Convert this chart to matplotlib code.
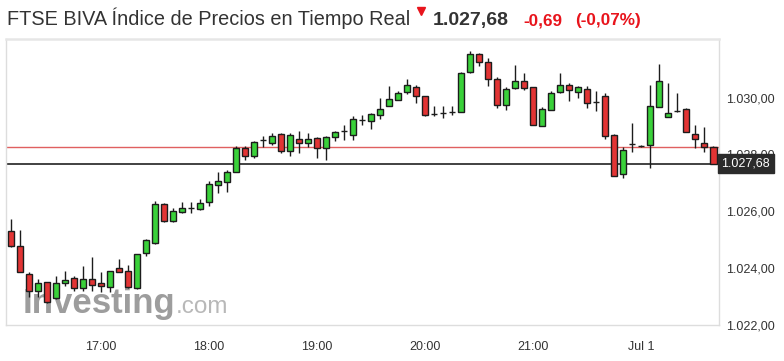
import matplotlib
matplotlib.use("Agg")
import matplotlib.pyplot as plt
from matplotlib.lines import Line2D
import numpy as np

plt.rcParams['font.family'] = ['Liberation Sans', 'DejaVu Sans']

# ---- data (5-minute candles, 16:10 -> 22:40) ----
opens = [1025.29, 1024.77, 1023.79, 1023.21, 1023.50, 1022.95, 1023.47, 1023.66, 1023.29, 1023.62,
         1023.48, 1023.33, 1024.01, 1023.89, 1023.31, 1024.53, 1024.88, 1026.25, 1025.67, 1025.97,
         1026.13, 1026.08, 1026.32, 1026.93, 1027.03, 1027.40, 1028.22, 1027.95, 1028.50, 1028.42,
         1028.71, 1028.13, 1028.54, 1028.42, 1028.57, 1028.21, 1028.60, 1028.82, 1028.68, 1029.21,
         1029.19, 1029.39, 1029.71, 1029.93, 1030.20, 1030.39, 1030.04, 1029.44, 1029.46, 1029.48,
         1029.50, 1030.90, 1031.53, 1031.27, 1030.67, 1029.74, 1030.33, 1030.57, 1030.36, 1029.01,
         1029.58, 1030.21, 1030.44, 1030.20, 1030.30, 1029.83, 1030.04, 1028.70, 1027.31, 1028.36,
         1028.30, 1028.33, 1029.67, 1029.32, 1029.53, 1029.59, 1028.71, 1028.40, 1028.27]
highs = [1025.73, 1025.34, 1023.85, 1023.62, 1023.52, 1023.71, 1023.90, 1023.71, 1024.06, 1024.41,
         1023.85, 1023.90, 1024.32, 1024.11, 1024.50, 1025.02, 1026.37, 1026.29, 1026.10, 1026.31,
         1026.31, 1026.45, 1027.08, 1027.40, 1027.45, 1028.29, 1028.31, 1028.48, 1028.65, 1028.77,
         1028.74, 1028.74, 1028.81, 1028.75, 1028.60, 1028.64, 1028.83, 1029.03, 1029.34, 1029.40,
         1029.45, 1029.98, 1030.40, 1030.24, 1030.67, 1030.45, 1030.05, 1029.69, 1029.72, 1029.72,
         1030.89, 1031.63, 1031.56, 1031.41, 1030.71, 1030.36, 1031.15, 1030.88, 1030.37, 1029.67,
         1030.24, 1030.88, 1030.53, 1030.41, 1030.41, 1030.24, 1030.15, 1028.71, 1028.28, 1029.12,
         1028.33, 1030.45, 1031.20, 1030.53, 1030.18, 1029.62, 1029.03, 1028.98, 1028.30]
lows = [1024.76, 1023.86, 1022.97, 1022.97, 1022.77, 1022.93, 1023.36, 1023.21, 1023.21, 1023.21,
        1023.15, 1023.15, 1023.85, 1023.30, 1023.27, 1024.44, 1024.86, 1025.64, 1025.61, 1025.94,
        1025.94, 1026.05, 1026.18, 1026.64, 1026.67, 1027.38, 1027.81, 1027.87, 1028.25, 1028.33,
        1028.04, 1027.95, 1028.04, 1028.25, 1027.86, 1027.81, 1028.48, 1028.50, 1028.51, 1029.03,
        1028.91, 1029.25, 1029.70, 1029.91, 1030.12, 1029.80, 1029.36, 1029.34, 1029.30, 1029.39,
        1029.49, 1030.88, 1031.11, 1030.41, 1029.62, 1029.57, 1030.31, 1030.27, 1029.03, 1028.99,
        1029.57, 1030.18, 1029.88, 1029.97, 1029.62, 1029.53, 1028.54, 1027.24, 1027.16, 1028.07,
        1028.28, 1027.51, 1029.66, 1029.31, 1029.50, 1028.78, 1028.21, 1028.07, 1027.68]
closes = [1024.79, 1023.87, 1023.21, 1023.47, 1022.80, 1023.47, 1023.57, 1023.29, 1023.61, 1023.42,
          1023.38, 1023.89, 1023.87, 1023.33, 1024.49, 1024.98, 1026.25, 1025.67, 1026.02, 1026.11,
          1026.13, 1026.29, 1026.95, 1027.05, 1027.40, 1028.22, 1027.95, 1028.44, 1028.50, 1028.65,
          1028.13, 1028.67, 1028.39, 1028.54, 1028.21, 1028.63, 1028.79, 1028.82, 1029.24, 1029.21,
          1029.42, 1029.59, 1029.94, 1030.18, 1030.44, 1030.04, 1029.38, 1029.44, 1029.46, 1029.48,
          1030.88, 1031.53, 1031.27, 1030.65, 1029.74, 1030.32, 1030.57, 1030.33, 1029.04, 1029.59,
          1030.18, 1030.44, 1030.27, 1030.38, 1029.80, 1029.83, 1028.65, 1027.25, 1028.15, 1028.36,
          1028.30, 1029.69, 1030.57, 1029.45, 1029.53, 1028.79, 1028.54, 1028.27, 1027.68]

time_tick_index = [10, 22, 34, 46, 58, 70]
time_tick_labels = ["17:00", "18:00", "19:00", "20:00", "21:00", "Jul 1"]
price_ticks = [1022, 1024, 1026, 1028, 1030]
price_tick_labels = ["1.022,00", "1.024,00", "1.026,00", "1.028,00", "1.030,00"]

last_price = 1027.68
ref_line = 1028.27
title = "FTSE BIVA Índice de Precios en Tiempo Real"
price_txt = "1.027,68"
change_txt = "-0,69"
pct_txt = "(-0,07%)"

# ---- figure ----
W, H = 784, 361
fig = plt.figure(figsize=(W / 100, H / 100), dpi=100)
fig.patch.set_facecolor("white")
ax = fig.add_axes([5.7 / W, 1 - 325 / H, (719.3 - 5.7) / W, (325 - 38.5) / H])

GREEN = "#3ad13a"
RED = "#e23434"
EDGE = "#1c1c1c"

o = np.array(opens); c = np.array(closes)
h = np.array(highs); l = np.array(lows)
x = np.arange(len(o))
colors = [GREEN if cc > oo else (RED if cc < oo else EDGE) for oo, cc in zip(o, c)]

# watermark
ax.text(0.024, 0.042, "Investing", transform=ax.transAxes, fontsize=25,
        fontweight="bold", color="#7c7c7c", alpha=0.75, zorder=0.5, ha="left", va="baseline")
ax.text(0.238, 0.042, ".com", transform=ax.transAxes, fontsize=17.5,
        color="#8a8a8a", alpha=0.6, zorder=0.5, ha="left", va="baseline")

ax.axhline(ref_line, color="#e06060", lw=1, zorder=1)
ax.axhline(last_price, color="#333333", lw=1.3, zorder=1)

ax.vlines(x, l, h, color=EDGE, lw=1, zorder=2)
ax.bar(x, c - o, bottom=o, width=0.7, color=colors, edgecolor=EDGE, linewidth=1, zorder=3)

ax.set_xlim(-0.555, 78.66)
ax.set_ylim(1022.0, 1032.08)

ax.set_xticks(time_tick_index)
ax.set_xticklabels(time_tick_labels)
ax.yaxis.tick_right()
ax.set_yticks(price_ticks)
ax.set_yticklabels(price_tick_labels)
ax.tick_params(axis="both", length=0, labelsize=9, labelcolor="#333333")
ax.tick_params(axis="y", pad=5)
ax.tick_params(axis="x", pad=11.5)

for s in ax.spines.values():
    s.set_color("#dddddd")
    s.set_linewidth(1)
ax.spines["top"].set_linewidth(1.8)
ax.spines["top"].set_color("#e6e6e6")

# last price box
ax.text(1.003, last_price, price_txt, transform=ax.get_yaxis_transform(), ha="left", va="center",
        fontsize=9, color="white", zorder=5,
        bbox=dict(boxstyle="square,pad=0.28", fc="#2b2b2b", ec="#2b2b2b"))

# header
yb = 1 - 25 / H
fig.text(7 / W, yb, title, fontsize=14.3, color="#333333", ha="left", va="baseline")
fig.add_artist(Line2D([421 / W], [1 - 11 / H], marker="v", markersize=6, color="#e8141c",
                      transform=fig.transFigure))
fig.text(433 / W, yb, price_txt, fontsize=14, fontweight="bold", color="#333333", ha="left", va="baseline")
fig.text(523 / W, yb, change_txt, fontsize=12.3, fontweight="bold", color="#e8141c", ha="left", va="baseline")
fig.text(575 / W, yb, pct_txt, fontsize=12.3, fontweight="bold", color="#e8141c", ha="left", va="baseline")

fig.savefig("out.png", dpi=100, facecolor="white")
